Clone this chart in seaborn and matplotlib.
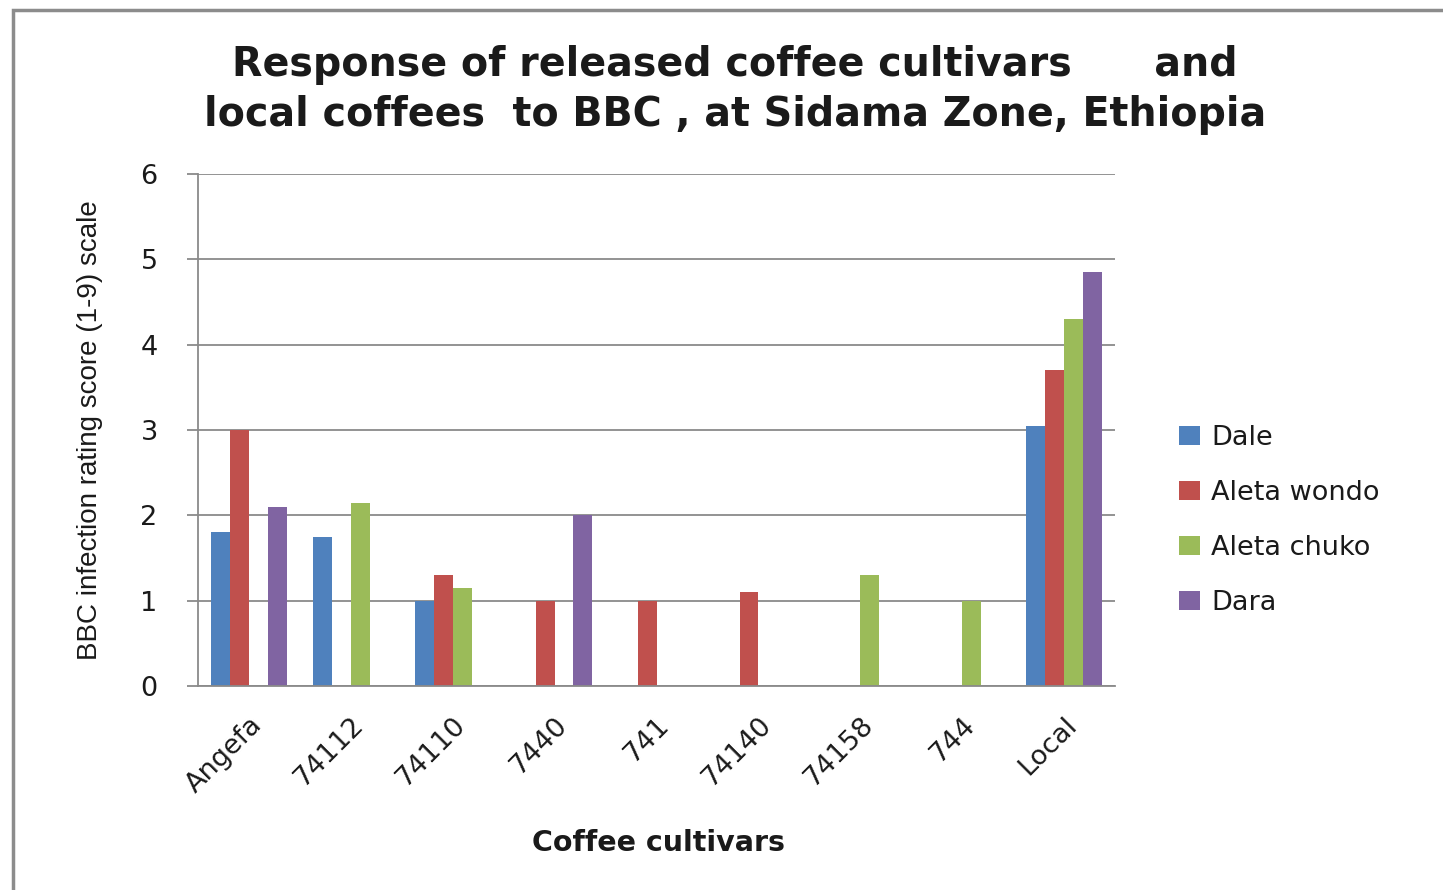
import pandas as pd
import seaborn as sns
import matplotlib.pyplot as plt
from matplotlib.patches import Rectangle

# data
cultivars = ["Angefa", "74112", "74110", "7440", "741", "74140", "74158", "744", "Local"]
locations = ["Dale", "Aleta wondo", "Aleta chuko", "Dara"]
dale = [1.8, 1.75, 1.0, 0, 0, 0, 0, 0, 3.05]
aleta_wondo = [3.0, 0, 1.3, 1.0, 1.0, 1.1, 0, 0, 3.7]
aleta_chuko = [0, 2.15, 1.15, 0, 0, 0, 1.3, 1.0, 4.3]
dara = [2.1, 0, 0, 2.0, 0, 0, 0, 0, 4.85]
colors = ["#4F81BD", "#C0504D", "#9BBB59", "#8064A2"]

rows = []
for loc, vals in zip(locations, [dale, aleta_wondo, aleta_chuko, dara]):
    for c, v in zip(cultivars, vals):
        rows.append({"cultivar": c, "location": loc, "score": v})
df = pd.DataFrame(rows)

sns.set_style("white")
plt.rcParams["font.family"] = ["DejaVu Sans"]

W, H = 1443, 890
fig = plt.figure(figsize=(W / 100, H / 100), dpi=100)
ax = fig.add_axes([198 / W, 1 - 686 / H, (1115 - 198) / W, (686 - 174) / H])

sns.barplot(data=df, x="cultivar", y="score", hue="location", order=cultivars,
            hue_order=locations, palette=colors, saturation=1, width=0.74,
            linewidth=0, ax=ax)

grid = "#8a8a8a"
txt = "#1a1a1a"
ax.set_ylim(0, 6)
ax.set_yticks(range(7))
ax.yaxis.grid(True, color=grid, linewidth=1.3)
ax.set_axisbelow(True)
for side in ["top", "right"]:
    ax.spines[side].set_visible(False)
for side in ["left", "bottom"]:
    ax.spines[side].set_color(grid)
    ax.spines[side].set_linewidth(1.3)
ax.tick_params(axis="y", which="major", left=True, length=8, width=1.3, color=grid,
               pad=21, labelsize=19.5, labelcolor=txt)
ax.tick_params(axis="x", bottom=False, labelsize=19.5, labelcolor=txt, pad=15)
for lab in ax.get_xticklabels():
    lab.set_rotation(45)
    lab.set_ha("right")
    lab.set_va("top")
    lab.set_rotation_mode("anchor")

ax.set_xlabel("")
ax.set_ylabel("")
fig.text(659 / W, 1 - 843 / H, "Coffee cultivars", ha="center", va="center",
         fontsize=20.5, fontweight="bold", color=txt)
fig.text(90 / W, 1 - 430 / H, "BBC infection rating score (1-9) scale", rotation=90,
         ha="center", va="center", fontsize=20, color=txt,
         family=["Liberation Sans", "DejaVu Sans"])

fig.text(735 / W, 1 - 76 / H, "Response of released coffee cultivars      and",
         ha="center", va="baseline", fontsize=28.5, fontweight="bold", color=txt)
fig.text(735 / W, 1 - 126 / H, "local coffees  to BBC , at Sidama Zone, Ethiopia",
         ha="center", va="baseline", fontsize=28.5, fontweight="bold", color=txt)

ax.legend(loc="upper left", bbox_to_anchor=(1179 / W, 1 - 425 / H),
          bbox_transform=fig.transFigure, frameon=False, fontsize=19.5,
          handlelength=0.78, handleheight=0.7, handletextpad=0.4,
          labelspacing=1.07, borderpad=0, borderaxespad=0, labelcolor=txt)

fig.patches.append(Rectangle((13 / W, -0.1), 1.2, 1 - 10 / H + 0.1,
                             transform=fig.transFigure, fill=False,
                             edgecolor="#8c8c8c", linewidth=2.5))

fig.savefig("out.png", dpi=100)
